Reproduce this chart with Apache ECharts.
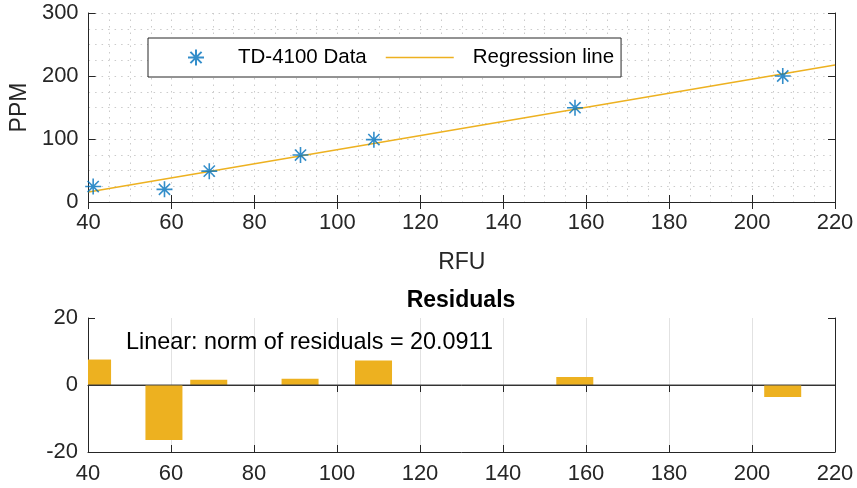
<!DOCTYPE html>
<html>
<head>
<meta charset="utf-8">
<script src="https://cdn.jsdelivr.net/npm/echarts@6/dist/echarts.min.js"></script>
<style>
  html, body { margin: 0; padding: 0; background: #fff; }
  #main { width: 857px; height: 488px; }
</style>
</head>
<body>
<div id="main"></div>
<script>
// values
const rfu = [41.1, 58.3, 69.1, 91.1, 108.8, 157.3, 207.4];
const ppm = [24.5, 20.1, 49.0, 74.5, 99.0, 149.7, 200.0];
const fitX = [40, 220];
const fitY = [15.9, 217.5];
const residuals = [7.6, -16.4, 1.6, 1.9, 7.3, 2.4, -3.6];
const xTicks = [40, 60, 80, 100, 120, 140, 160, 180, 200, 220];
const ppmTicks = [0, 100, 200, 300];
const resTicks = [-20, 0, 20];

const FONT = 'Liberation Sans, Arial, Helvetica, sans-serif';
const AX = '#262626';
const BLUE = '#0072BD';
const GOLD = '#EDB120';
const STAR = 'path://M10,0L10,20M0,10L20,10M3,3L17,17M3,17L17,3';
const DASH = 'path://M0,0L68,0L68,1.5L0,1.5Z';

const chart = echarts.init(document.getElementById('main'), null, { renderer: 'canvas' });

function tickAxis(pos, gridIndex, min, max, interval) {
    // extra axes just for the inward ticks on the top / right of the box
    return {
        type: 'value', position: pos, gridIndex: gridIndex,
        min: min, max: max, interval: interval,
        axisLine: { show: true, lineStyle: { color: AX, width: 1 } },
        axisTick: { show: true, inside: true, length: 7, lineStyle: { color: AX } },
        axisLabel: { show: false },
        splitLine: { show: false }
    };
}

const dotted = { color: '#cbcbcb', width: 1, type: [1.5, 5] };

// bars drawn by hand so the first one is cut at the left edge of the box
function residualBar(params, api) {
    const x = api.value(0), y = api.value(1);
    const base = api.coord([x, 0]);
    const top = api.coord([x, y]);
    const w = 37;
    const cs = params.coordSys;
    const rect = echarts.graphic.clipRectByRect(
        { x: base[0] - w / 2, y: Math.min(base[1], top[1]), width: w, height: Math.abs(top[1] - base[1]) },
        { x: cs.x, y: cs.y, width: cs.width, height: cs.height }
    );
    return rect && { type: 'rect', shape: rect, style: { fill: GOLD } };
}

const option = {
    animation: false,
    textStyle: { fontFamily: FONT },
    title: [
        {
            text: 'Residuals', left: 461, top: 289, textAlign: 'center', padding: 0,
            textStyle: { fontFamily: FONT, fontSize: 23, fontWeight: 'bold', color: '#000' }
        },
        {
            text: 'Linear: norm of residuals = 20.0911', left: 126, top: 331, padding: 0,
            textStyle: { fontFamily: FONT, fontSize: 23.4, fontWeight: 'normal', color: '#000' }
        }
    ],
    legend: {
        left: 148, top: 38,
        padding: [9, 7, 9, 39],
        itemWidth: 68, itemHeight: 16, itemGap: 19,
        backgroundColor: '#fff',
        borderColor: AX, borderWidth: 1,
        textStyle: { fontFamily: FONT, fontSize: 20.5, color: '#000', height: 20, lineHeight: 20 },
        data: [
            { name: 'TD-4100 Data', icon: STAR, textStyle: { padding: [0, 0, 0, 3] } },
            { name: 'Regression line', icon: DASH, itemStyle: { color: GOLD }, textStyle: { padding: [0, 0, 0, 14] } }
        ]
    },
    grid: [
        { left: 88, right: 22, top: 13, height: 189 },
        { left: 88, right: 22, top: 318, height: 134 }
    ],
    xAxis: [
        {
            type: 'value', gridIndex: 0, min: 40, max: 220, interval: 20,
            name: 'RFU', nameLocation: 'middle', nameGap: 49,
            nameTextStyle: { fontFamily: FONT, fontSize: 23, color: AX },
            axisLine: { show: true, onZero: false, lineStyle: { color: AX } },
            axisTick: { inside: true, length: 7, lineStyle: { color: AX } },
            axisLabel: { fontFamily: FONT, fontSize: 22, color: AX, margin: 10,
                formatter: v => xTicks.includes(v) ? String(v) : '' },
            splitLine: { show: true, lineStyle: dotted },
            minorTick: { show: false, splitNumber: 4 },
            minorSplitLine: { show: true, lineStyle: dotted }
        },
        tickAxis('top', 0, 40, 220, 20),
        {
            type: 'value', gridIndex: 1, min: 40, max: 220, interval: 20,
            axisLine: { show: true, onZero: false, lineStyle: { color: AX } },
            axisTick: { inside: true, length: 7, lineStyle: { color: AX } },
            axisLabel: { fontFamily: FONT, fontSize: 22, color: AX, margin: 11 },
            splitLine: { show: true, lineStyle: { color: '#e2e2e2', width: 1 } }
        },
        tickAxis('top', 1, 40, 220, 20)
    ],
    yAxis: [
        {
            type: 'value', gridIndex: 0, min: 0, max: 300, interval: 100,
            name: 'PPM', nameLocation: 'middle', nameGap: 55,
            nameTextStyle: { fontFamily: FONT, fontSize: 23, color: AX },
            axisLine: { show: true, lineStyle: { color: AX } },
            axisTick: { show: true, inside: true, length: 7, lineStyle: { color: AX } },
            axisLabel: { fontFamily: FONT, fontSize: 22, color: AX, margin: 10,
                formatter: v => ppmTicks.includes(v) ? String(v) : '' },
            splitLine: { show: true, lineStyle: dotted },
            minorTick: { show: false, splitNumber: 4 },
            minorSplitLine: { show: true, lineStyle: dotted }
        },
        tickAxis('right', 0, 0, 300, 100),
        {
            type: 'value', gridIndex: 1, min: -20, max: 20, interval: 20,
            axisLine: { show: true, lineStyle: { color: AX } },
            axisTick: { show: true, inside: true, length: 7, lineStyle: { color: AX } },
            axisLabel: { fontFamily: FONT, fontSize: 22, color: AX, margin: 10,
                formatter: v => resTicks.includes(v) ? String(v) : '' },
            splitLine: { show: false }
        },
        tickAxis('right', 1, -20, 20, 20)
    ],
    series: [
        {
            name: 'TD-4100 Data', type: 'scatter', xAxisIndex: 0, yAxisIndex: 0,
            symbol: STAR, symbolSize: 16, z: 5,
            itemStyle: { color: 'rgba(0,0,0,0)', borderColor: BLUE, borderWidth: 1.6 },
            data: rfu.map((x, i) => [x, ppm[i]])
        },
        {
            name: 'Regression line', type: 'line', xAxisIndex: 0, yAxisIndex: 0,
            symbol: 'none', showSymbol: false, z: 4,
            lineStyle: { color: GOLD, width: 1.5 },
            itemStyle: { color: GOLD },
            data: fitX.map((x, i) => [x, fitY[i]])
        },
        {
            name: 'residuals', type: 'custom', xAxisIndex: 2, yAxisIndex: 2,
            renderItem: residualBar,
            encode: { x: 0, y: 1 },
            data: rfu.map((x, i) => [x, residuals[i]])
        },
        {
            name: 'zero', type: 'line', xAxisIndex: 2, yAxisIndex: 2,
            symbol: 'none', silent: true, z: 3,
            lineStyle: { color: '#404040', width: 1 },
            data: [[40, 0], [220, 0]]
        }
    ]
};

chart.setOption(option);
</script>
</body>
</html>
